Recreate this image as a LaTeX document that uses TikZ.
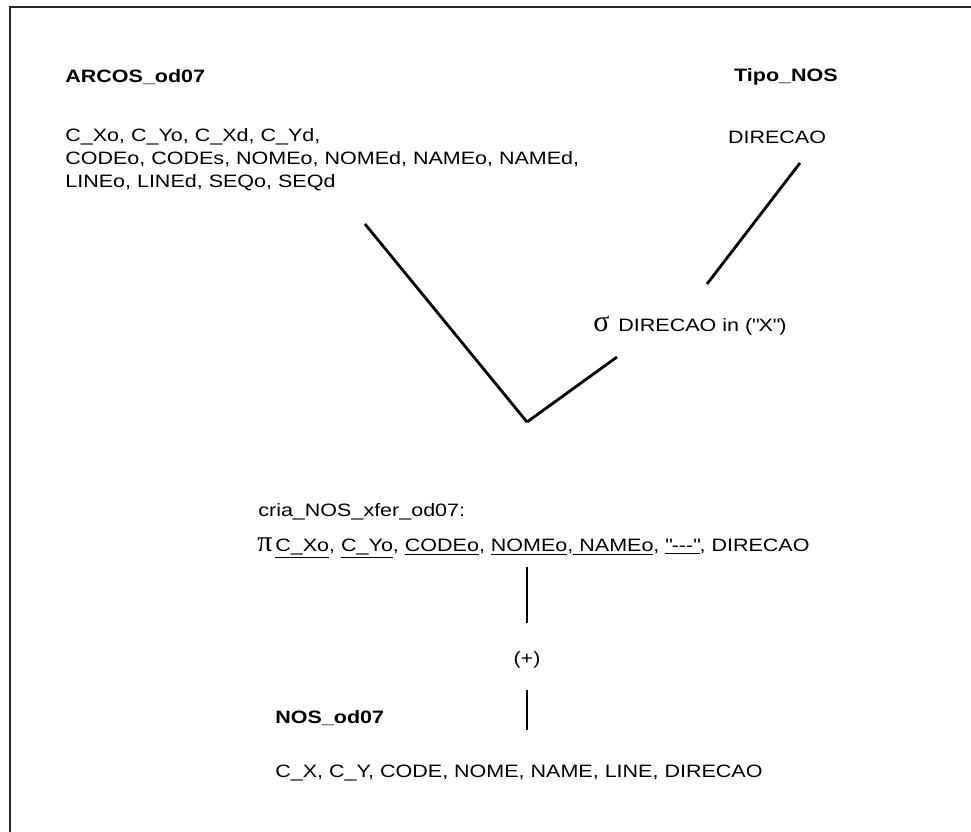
\documentclass[tikz,border=0pt]{standalone}
\usepackage{fontspec}
\setmainfont{Liberation Sans}[FakeStretch=1.2]
\newfontfamily\greekfont{Liberation Serif}
\newcommand{\opfont}{\fontsize{17}{17}\greekfont}

\begin{document}
\begin{tikzpicture}[
    x=0.02cm, y=-0.02cm,
    relname/.style={font=\fontsize{10.2}{13}\selectfont\bfseries, inner sep=0pt},
    attrtext/.style={font=\fontsize{10.2}{13.1}\selectfont, inner sep=0pt, align=left},
    link/.style={line width=1.6pt}
]
\useasboundingbox (0,0) rectangle (971,832);
\clip (0,0) rectangle (971,832);
\draw[line width=1.2pt, black!85] (10,7) rectangle (990,850);

% relations
\node[relname,  anchor=west] (arcos)     at (65,77)  {ARCOS\_od07};
\node[attrtext, anchor=west] (arcosattr) at (65,160) {C\_Xo, C\_Yo, C\_Xd, C\_Yd,\\
  CODEo, CODEs, NOMEo, NOMEd, NAMEo, NAMEd,\\
  LINEo, LINEd, SEQo, SEQd};
\node[relname]  (tipo)     at (786,77)  {Tipo\_NOS};
\node[attrtext] (tipoattr) at (777,137) {DIRECAO};

% operators
\node[attrtext, anchor=west] (sigma) at (593,326)
  {{\opfont σ}\hspace{0.5em}DIRECAO in (\textquotedbl X\textquotedbl)};
\node[attrtext, anchor=west] (cria) at (258,512) {cria\_NOS\_xfer\_od07:};
\node[attrtext, anchor=west] (proj) at (257,548)
  {{\opfont π}\,\underline{C\_Xo}, \underline{C\_Yo}, \underline{CODEo},
   \underline{NOMEo},\underline{ NAMEo}, \underline{\textquotedbl{-}{-}{-}\textquotedbl}, DIRECAO};
\node[attrtext] (union) at (527,660) {(+)};

\node[relname,  anchor=west] (nos)     at (275,718) {NOS\_od07};
\node[attrtext, anchor=west] (nosattr) at (275,773) {C\_X, C\_Y, CODE, NOME, NAME, LINE, DIRECAO};

% line ends
\coordinate (arcosend) at (365,224);
\coordinate (tipoend)  at (800,163);
\coordinate (selin)    at (707,284);
\coordinate (selout)   at (617,357);
\coordinate (join)     at (527,422);
\coordinate (projout)  at (527,567);
\coordinate (unionin)  at (527,623);
\coordinate (unionout) at (527,690);
\coordinate (nosin)    at (527,730);

\draw[link] (arcosend) -- (join);
\draw[link] (tipoend) -- (selin);
\draw[link] (selout) -- (join);
\draw[link] (projout) -- (unionin);
\draw[link] (unionout) -- (nosin);
\end{tikzpicture}
\end{document}
